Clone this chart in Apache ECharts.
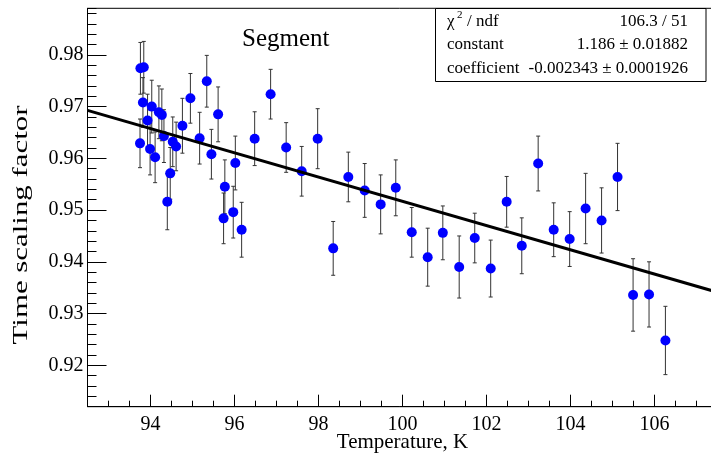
<!DOCTYPE html>
<html><head><meta charset="utf-8">
<script src="https://cdn.jsdelivr.net/npm/echarts@6/dist/echarts.min.js"></script>
<style>html,body{margin:0;padding:0;background:#fff}#c{width:711px;height:453px}</style>
</head><body><div id="c"></div>
<script>
// ---- data ----
const temperature = [93.76,93.84,93.82,94.03,93.93,93.75,93.99,94.11,94.20,94.27,94.32,94.53,94.61,94.47,94.40,94.76,94.95,95.17,95.34,95.61,95.45,96.02,95.77,95.97,95.74,96.17,96.48,96.86,97.23,97.60,97.98,98.35,98.71,99.10,99.48,99.84,100.22,100.60,100.96,101.35,101.72,102.10,102.48,102.84,103.23,103.60,103.98,104.36,104.74,105.12,105.49,105.87,106.26];
const scaling = [0.9774,0.9776,0.9708,0.9700,0.9673,0.9629,0.9618,0.9602,0.9689,0.9684,0.9643,0.9632,0.9623,0.9571,0.9516,0.9663,0.9716,0.9639,0.9749,0.9685,0.9608,0.9591,0.9545,0.9496,0.9484,0.9462,0.9638,0.9724,0.9621,0.9575,0.9638,0.9426,0.9564,0.9538,0.9511,0.9543,0.9457,0.9409,0.9456,0.9390,0.9446,0.9387,0.9516,0.9431,0.9590,0.9462,0.9444,0.9503,0.9480,0.9564,0.9336,0.9337,0.9248];
const scalingErr = [0.0050,0.0050,0.0048,0.0051,0.0051,0.0047,0.0050,0.0049,0.0051,0.0050,0.0051,0.0048,0.0047,0.0050,0.0054,0.0053,0.0048,0.0050,0.0050,0.0053,0.0048,0.0052,0.0052,0.0050,0.0049,0.0053,0.0052,0.0048,0.0048,0.0048,0.0058,0.0052,0.0048,0.0052,0.0057,0.0054,0.0048,0.0056,0.0052,0.0060,0.0048,0.0055,0.0049,0.0054,0.0053,0.0052,0.0053,0.0068,0.0063,0.0065,0.0070,0.0063,0.0066];
const xTickLabels = [94,96,98,100,102,104,106];
const yTickLabels = [0.92,0.93,0.94,0.95,0.96,0.97,0.98];
const fitConstant = 1.186, fitConstantErr = 0.01882;
const fitCoefficient = -0.002343, fitCoefficientErr = 0.0001926;
const chi2 = 106.3, ndf = 51;
const xRange = [92.5, 107.5];
const yRange = [0.912, 0.989];

// ---- layout ----
const W = 711, H = 453;
const plotL = 87.5, plotT = 8.3, plotB = 406.7;
const pxX = 42;
const plotR = plotL + (xRange[1]-xRange[0])*pxX;
const pxY = (plotB-plotT)/(yRange[1]-yRange[0]);
const xMaj0 = xTickLabels[0], xMaj1 = xTickLabels[xTickLabels.length-1];
const yMaj0 = yTickLabels[0], yMaj1 = yTickLabels[yTickLabels.length-1];
const FONT = 'Liberation Serif';

const fitLine = xRange.map(t => [t, fitConstant + fitCoefficient*t]);
const errData = temperature.map((t,i)=>[t, scaling[i], scalingErr[i]]);
const ptData = temperature.map((t,i)=>[t, scaling[i]]);

const chart = echarts.init(document.getElementById('c'), null, {renderer:'canvas'});
const txt = (x,y,text,opts={}) => ({type:'text', x, y, z:100, style:Object.assign({text, fontFamily:FONT, fontSize:17, fill:'#000', textVerticalAlign:'middle'}, opts)});
const hiddenAxis = (gi, min, max) => ({gridIndex:gi, type:'value', min, max, show:false});

chart.setOption({
  animation:false,
  backgroundColor:'#fff',
  grid:[
    {left:plotL, right:W-plotR, top:plotT, bottom:H-plotB, show:true, borderColor:'#000', borderWidth:1, outerBoundsMode:'none'},
    {left:plotL+(xMaj0-xRange[0])*pxX, right:W-(plotL+(xMaj1-xRange[0])*pxX), top:plotT, bottom:H-plotB, outerBoundsMode:'none'},
    {left:plotL, right:W-plotR, top:plotT+(yRange[1]-yMaj1)*pxY, bottom:H-(plotT+(yRange[1]-yMaj0)*pxY), outerBoundsMode:'none'}
  ],
  xAxis:[
    {gridIndex:0, type:'value', min:xRange[0], max:xRange[1], interval:0.5,
     axisLine:{show:true, lineStyle:{color:'#000', width:1}},
     axisTick:{show:true, inside:true, length:6, lineStyle:{color:'#000'}},
     axisLabel:{show:false}, splitLine:{show:false}},
    {gridIndex:1, type:'value', min:xMaj0, max:xMaj1, interval:2,
     axisLine:{show:false},
     axisTick:{show:true, inside:true, length:12, lineStyle:{color:'#000'}},
     axisLabel:{show:true, color:'#000', fontFamily:FONT, fontSize:20, margin:8},
     splitLine:{show:false}},
    hiddenAxis(2, xRange[0], xRange[1])
  ],
  yAxis:[
    {gridIndex:0, type:'value', min:yRange[0], max:yRange[1], interval:0.002,
     axisLine:{show:true, lineStyle:{color:'#000', width:1}},
     axisTick:{show:true, inside:true, length:9, lineStyle:{color:'#000'}},
     axisLabel:{show:false}, splitLine:{show:false}},
    hiddenAxis(1, yRange[0], yRange[1]),
    {gridIndex:2, type:'value', min:yMaj0, max:yMaj1, interval:0.01,
     axisLine:{show:false},
     axisTick:{show:true, inside:true, length:19, lineStyle:{color:'#000'}},
     axisLabel:{show:true, color:'#000', fontFamily:FONT, fontSize:20, margin:4, formatter:v=>v.toFixed(2)},
     splitLine:{show:false}}
  ],
  series:[
    {type:'custom', xAxisIndex:0, yAxisIndex:0, data:errData, encode:{x:0,y:1}, z:2, clip:true,
     renderItem:(params, api)=>{
       const x=api.value(0), y=api.value(1), e=api.value(2);
       const a=api.coord([x,y+e]), b=api.coord([x,y-e]);
       const c=2, st={stroke:'#333', lineWidth:1};
       return {type:'group', children:[
         {type:'line', shape:{x1:a[0],y1:a[1],x2:b[0],y2:b[1]}, style:st},
         {type:'line', shape:{x1:a[0]-c,y1:a[1],x2:a[0]+c,y2:a[1]}, style:st},
         {type:'line', shape:{x1:b[0]-c,y1:b[1],x2:b[0]+c,y2:b[1]}, style:st}
       ]};
     }},
    {type:'scatter', xAxisIndex:0, yAxisIndex:0, data:ptData, symbol:'circle', symbolSize:10,
     itemStyle:{color:'#0000ff', opacity:1}, z:3, emphasis:{disabled:true}},
    {type:'line', xAxisIndex:0, yAxisIndex:0, data:fitLine, symbol:'none', clip:true,
     lineStyle:{color:'#000', width:3}, z:4}
  ],
  graphic:[
    {type:'text', x:21, y:225, rotation:Math.PI/2, scaleX:1.47, z:100,
     style:{text:'Time scaling factor', fontFamily:FONT, fontSize:21, fill:'#000', textAlign:'center', textVerticalAlign:'middle'}},
    {type:'text', x:(plotL+plotR)/2, y:442, z:100,
     style:{text:'Temperature, K', fontFamily:FONT, fontSize:21, fill:'#000', textAlign:'center', textVerticalAlign:'middle'}},
    txt(242, 39, 'Segment', {fontSize:25}),
    {type:'rect', z:99, shape:{x:435.5, y:8.5, width:270.5, height:73}, style:{fill:'#fff', stroke:'#000', lineWidth:1}},
    txt(447, 22, 'χ'),
    txt(457, 15, '2', {fontSize:11}),
    txt(467, 22, '/ ndf'),
    txt(688, 22, chi2.toFixed(1)+' / '+ndf, {textAlign:'right'}),
    txt(447, 45, 'constant'),
    txt(688, 45, fitConstant.toFixed(3)+' ± '+fitConstantErr, {textAlign:'right'}),
    txt(447, 68.5, 'coefficient'),
    txt(688, 68.5, fitCoefficient.toFixed(6)+' ± '+fitCoefficientErr, {textAlign:'right'})
  ]
});
</script></body></html>
